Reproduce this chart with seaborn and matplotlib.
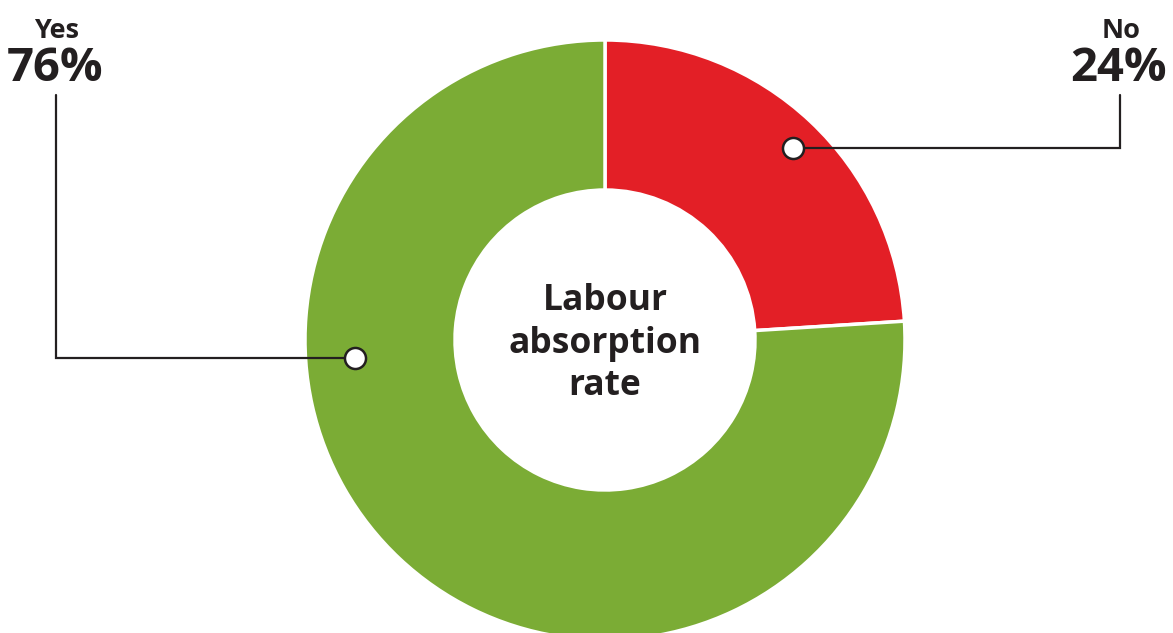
import numpy as np
import seaborn as sns
import matplotlib.pyplot as plt

# data
labels = ["No", "Yes"]
values = [24, 76]
colors = ["#E31F26", "#7BAC35"]
center_title = "Labour\nabsorption\nrate"

sns.set_theme(style="white")
plt.rcParams['font.family'] = ['Open Sans', 'DejaVu Sans']

W, H = 1173, 633
fig = plt.figure(figsize=(W / 100, H / 100), dpi=100)
ax = fig.add_axes([0, 0, 1, 1])
ax.set_xlim(0, W)
ax.set_ylim(0, H)
ax.set_aspect("equal")
ax.axis("off")

cx, cy = 605, H - 340
r_out, r_in = 300, 150
ax.pie(values, colors=colors, startangle=90, counterclock=False,
       center=(cx, cy), radius=r_out,
       wedgeprops=dict(width=r_out - r_in, edgecolor="white", linewidth=2.5))
ax.set_xlim(0, W)
ax.set_ylim(0, H)

ink = "#231F20"
for txt, yb in zip(center_title.split("\n"), [310, 353, 395]):
    ax.text(cx, H - yb, txt, ha="center", va="baseline", fontsize=25.5,
            fontweight="bold", color=ink)

# callouts: marker angle (deg) and radius, label x
callouts = [
    (45.6, 269, 1120),   # No
    (184.1, 251, 56),    # Yes
]
for (ang, r, lx), lab, v in zip(callouts, labels, values):
    mx = cx + r * np.cos(np.radians(ang))
    my = cy + r * np.sin(np.radians(ang))
    ax.plot([mx, lx, lx], [my, my, H - 95], color=ink, lw=1.6,
            solid_joinstyle="miter", zorder=3)
    ax.scatter([mx], [my], s=230, facecolor="white", edgecolor=ink,
               linewidth=1.8, zorder=4)
    ax.text(lx + 1, H - 38, lab, ha="center", va="baseline", fontsize=19.5,
            fontweight="bold", color=ink)
    ax.text(lx - 1, H - 81, f"{v}%", ha="center", va="baseline", fontsize=34,
            fontweight="bold", color=ink)

fig.savefig("out.png", dpi=100, facecolor="white")
